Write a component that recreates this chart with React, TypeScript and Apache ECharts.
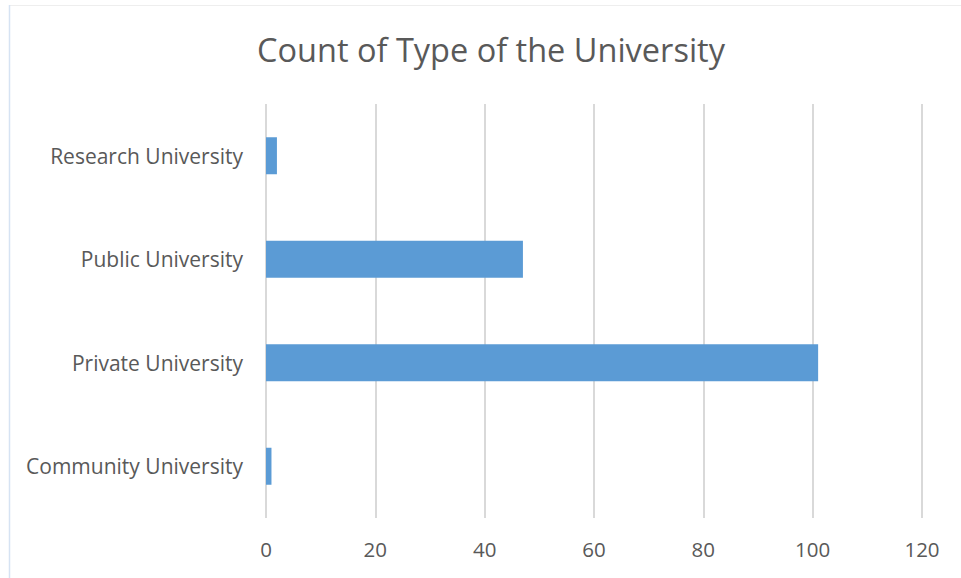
import React, { useEffect, useRef } from "react";
import * as echarts from "echarts";

const categories = [
  "Community University",
  "Private University",
  "Public University",
  "Research University",
];
const counts = [1, 101, 47, 2];
const axisMin = 0;
const axisMax = 120;
const axisStep = 20;
const titleText = "Count of Type of the University";

const FONT = "'Open Sans', 'Liberation Sans', sans-serif";
const TEXT_COLOR = "#595959";

export default function App() {
  const ref = useRef<HTMLDivElement>(null);

  useEffect(() => {
    if (!ref.current) return;
    const chart = echarts.init(ref.current, undefined, { renderer: "svg" });
    chart.setOption({
      animation: false,
      backgroundColor: "#ffffff",
      title: {
        text: titleText,
        left: 486,
        top: 28,
        textAlign: "center",
        textStyle: {
          fontFamily: FONT,
          fontSize: 32.5,
          fontWeight: "normal",
          color: TEXT_COLOR,
        },
      },
      graphic: [
        {
          type: "line",
          shape: { x1: 9, y1: 5.5, x2: 961, y2: 5.5 },
          style: { stroke: "#eeeeee", lineWidth: 1 },
          silent: true,
        },
        {
          type: "line",
          shape: { x1: 9.5, y1: 5, x2: 9.5, y2: 578 },
          style: { stroke: "#d6e3f3", lineWidth: 1.5 },
          silent: true,
        },
      ],
      grid: { left: 266, right: 39, top: 104, bottom: 60, containLabel: false },
      xAxis: {
        type: "value",
        min: axisMin,
        max: axisMax,
        interval: axisStep,
        axisLine: { show: false },
        axisTick: { show: false },
        splitLine: { show: true, lineStyle: { color: "#d9d9d9", width: 2 } },
        axisLabel: {
          margin: 20,
          fontFamily: FONT,
          fontSize: 20.5,
          color: TEXT_COLOR,
        },
      },
      yAxis: {
        type: "category",
        data: categories,
        axisLine: { show: false },
        axisTick: { show: false },
        splitLine: { show: false },
        axisLabel: {
          margin: 23,
          fontFamily: FONT,
          fontSize: 21,
          color: TEXT_COLOR,
        },
      },
      series: [
        {
          type: "bar",
          data: counts,
          barWidth: 37,
          itemStyle: { color: "#5b9bd5" },
        },
      ],
    });
    return () => chart.dispose();
  }, []);

  return (
    <div
      ref={ref}
      style={{ position: "fixed", left: 0, top: 0, width: 961, height: 578 }}
    />
  );
}
